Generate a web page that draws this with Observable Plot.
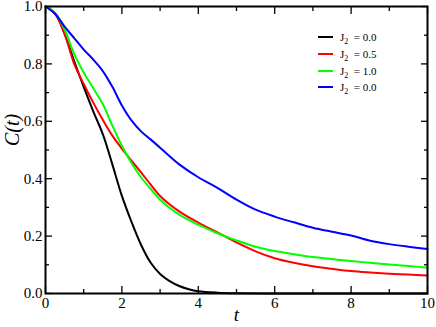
<!DOCTYPE html>
<html>
<head>
<meta charset="utf-8">
<script src="https://cdn.jsdelivr.net/npm/d3@7"></script>
<script src="https://cdn.jsdelivr.net/npm/@observablehq/plot@0.6"></script>
<style>
  html, body { margin: 0; padding: 0; background: #fff; }
  #wrap { position: relative; width: 436px; height: 327px; }
  #wrap svg, #wrap svg text { font-family: "Liberation Serif", "Times New Roman", serif !important; }
  #legend { position: absolute; left: 318px; top: 29px; font-family: "Liberation Serif", "Times New Roman", serif; font-size: 11px; color: #000; }
  .row { display: flex; align-items: center; height: 16.7px; }
  .sw { width: 15px; height: 2px; margin-right: 7px; }
  .row sub { font-size: 8px; vertical-align: -3px; line-height: 0; }
</style>
</head>
<body>
<div id="wrap"><div id="legend"></div></div>
<script>
const seriesNames = ["J\u2082 = 0.0 (a)", "J\u2082 = 0.5", "J\u2082 = 1.0", "J\u2082 = 0.0 (b)"];
const legendLabels = ["0.0", "0.5", "1.0", "0.0"];
const seriesColors = ["#000000", "#ff0000", "#00ff00", "#0000ff"];

const tBlack = [0, 0.25, 0.5, 0.75, 1.0, 1.25, 1.5, 1.75, 2.0, 2.25, 2.5, 2.75, 3.0, 3.25, 3.5, 3.75, 4.0, 4.5, 5, 6, 7, 8, 9, 10];
const cBlack = [1.0, 0.975, 0.905, 0.81, 0.72, 0.635, 0.555, 0.45, 0.34, 0.25, 0.17, 0.108, 0.068, 0.043, 0.026, 0.015, 0.008, 0.003, 0.001, 0, 0, 0, 0, 0];

const tRed = [0, 0.25, 0.5, 0.75, 1.0, 1.25, 1.5, 1.75, 2.0, 2.25, 2.5, 2.75, 3.0, 3.5, 4.0, 4.5, 5.0, 5.5, 6.0, 6.5, 7.0, 7.5, 8.0, 8.5, 9.0, 9.5, 10];
const cRed = [1.0, 0.975, 0.905, 0.80, 0.73, 0.665, 0.605, 0.55, 0.505, 0.463, 0.422, 0.38, 0.34, 0.286, 0.247, 0.213, 0.178, 0.147, 0.123, 0.107, 0.095, 0.086, 0.078, 0.073, 0.069, 0.066, 0.063];

const tGreen = [0, 0.25, 0.5, 0.75, 1.0, 1.25, 1.5, 1.75, 2.0, 2.25, 2.5, 2.75, 3.0, 3.5, 4.0, 4.5, 5.0, 5.5, 6.0, 6.5, 7.0, 7.5, 8.0, 8.5, 9.0, 9.5, 10];
const cGreen = [1.0, 0.978, 0.92, 0.835, 0.77, 0.715, 0.66, 0.585, 0.515, 0.455, 0.405, 0.365, 0.327, 0.275, 0.24, 0.21, 0.185, 0.163, 0.148, 0.137, 0.127, 0.12, 0.113, 0.107, 0.101, 0.096, 0.09];

const tBlue = [0, 0.25, 0.5, 0.75, 1.0, 1.25, 1.5, 1.75, 2.0, 2.25, 2.5, 2.75, 3.0, 3.25, 3.5, 4.0, 4.5, 5.0, 5.5, 6.0, 6.5, 7.0, 7.5, 8.0, 8.5, 9.0, 9.5, 10];
const cBlue = [1.0, 0.975, 0.93, 0.89, 0.85, 0.815, 0.775, 0.72, 0.655, 0.603, 0.565, 0.537, 0.508, 0.478, 0.45, 0.405, 0.368, 0.327, 0.292, 0.268, 0.248, 0.229, 0.215, 0.202, 0.184, 0.172, 0.163, 0.155];

const xMajor = [0, 2, 4, 6, 8, 10];
const xMinor = [1, 3, 5, 7, 9];
const yMajor = [0, 0.2, 0.4, 0.6, 0.8, 1.0];
const yMinor = [0.1, 0.3, 0.5, 0.7, 0.9];

const ts = [tBlack, tRed, tGreen, tBlue];
const cs = [cBlack, cRed, cGreen, cBlue];
const data = [];
ts.forEach((t, k) => t.forEach((tv, i) => data.push({t: tv, c: cs[k][i], s: seriesNames[k]})));

const font = "Liberation Serif";
const chart = Plot.plot({
  width: 436,
  height: 327,
  marginLeft: 45,
  marginRight: 9,
  marginTop: 6,
  marginBottom: 34,
  style: {fontFamily: font, fontSize: "15px", background: "#fff", color: "#000"},
  x: {domain: [0, 10]},
  y: {domain: [0, 1]},
  color: {domain: seriesNames, range: seriesColors},
  marks: [
    Plot.line(data, {x: "t", y: "c", z: "s", stroke: "s", strokeWidth: 2, curve: "catmull-rom"}),
    Plot.axisX({ticks: xMajor, tickSize: -7, tickFormat: () => "", label: null, strokeWidth: 1.3}),
    Plot.axisX({ticks: xMinor, tickSize: -4, tickFormat: () => "", label: null, strokeWidth: 1.3}),
    Plot.axisX({anchor: "top", ticks: xMajor, tickSize: -7, tickFormat: () => "", label: null, strokeWidth: 1.3}),
    Plot.axisX({anchor: "top", ticks: xMinor, tickSize: -4, tickFormat: () => "", label: null, strokeWidth: 1.3}),
    Plot.axisY({ticks: yMajor, tickSize: -7, tickFormat: () => "", label: null, strokeWidth: 1.3}),
    Plot.axisY({ticks: yMinor, tickSize: -4, tickFormat: () => "", label: null, strokeWidth: 1.3}),
    Plot.axisY({anchor: "right", ticks: yMajor, tickSize: -7, tickFormat: () => "", label: null, strokeWidth: 1.3}),
    Plot.axisY({anchor: "right", ticks: yMinor, tickSize: -4, tickFormat: () => "", label: null, strokeWidth: 1.3}),
    Plot.axisX({ticks: xMajor, tickSize: 0, tickPadding: 4, tickFormat: d3.format("d"), label: null, fontSize: 15, fontFamily: font}),
    Plot.axisY({ticks: yMajor, tickSize: 0, tickPadding: 3, tickFormat: d3.format(".1f"), label: null, fontSize: 15, fontFamily: font}),
    Plot.frame({stroke: "#000", strokeWidth: 2}),
    Plot.text(["t"], {frameAnchor: "bottom", dy: 27, fontStyle: "italic", fontSize: 19, fontFamily: font}),
    Plot.text(["C(t)"], {frameAnchor: "left", dx: -33, dy: -4, rotate: -90, fontStyle: "italic", fontSize: 20, fontFamily: font})
  ]
});
document.getElementById("wrap").prepend(chart);

const legend = document.getElementById("legend");
seriesColors.forEach((col, i) => {
  const row = document.createElement("div");
  row.className = "row";
  row.innerHTML = `<span class="sw" style="background:${col}"></span><span>J<sub>2</sub>&nbsp;&nbsp;= ${legendLabels[i]}</span>`;
  legend.appendChild(row);
});
</script>
</body>
</html>
